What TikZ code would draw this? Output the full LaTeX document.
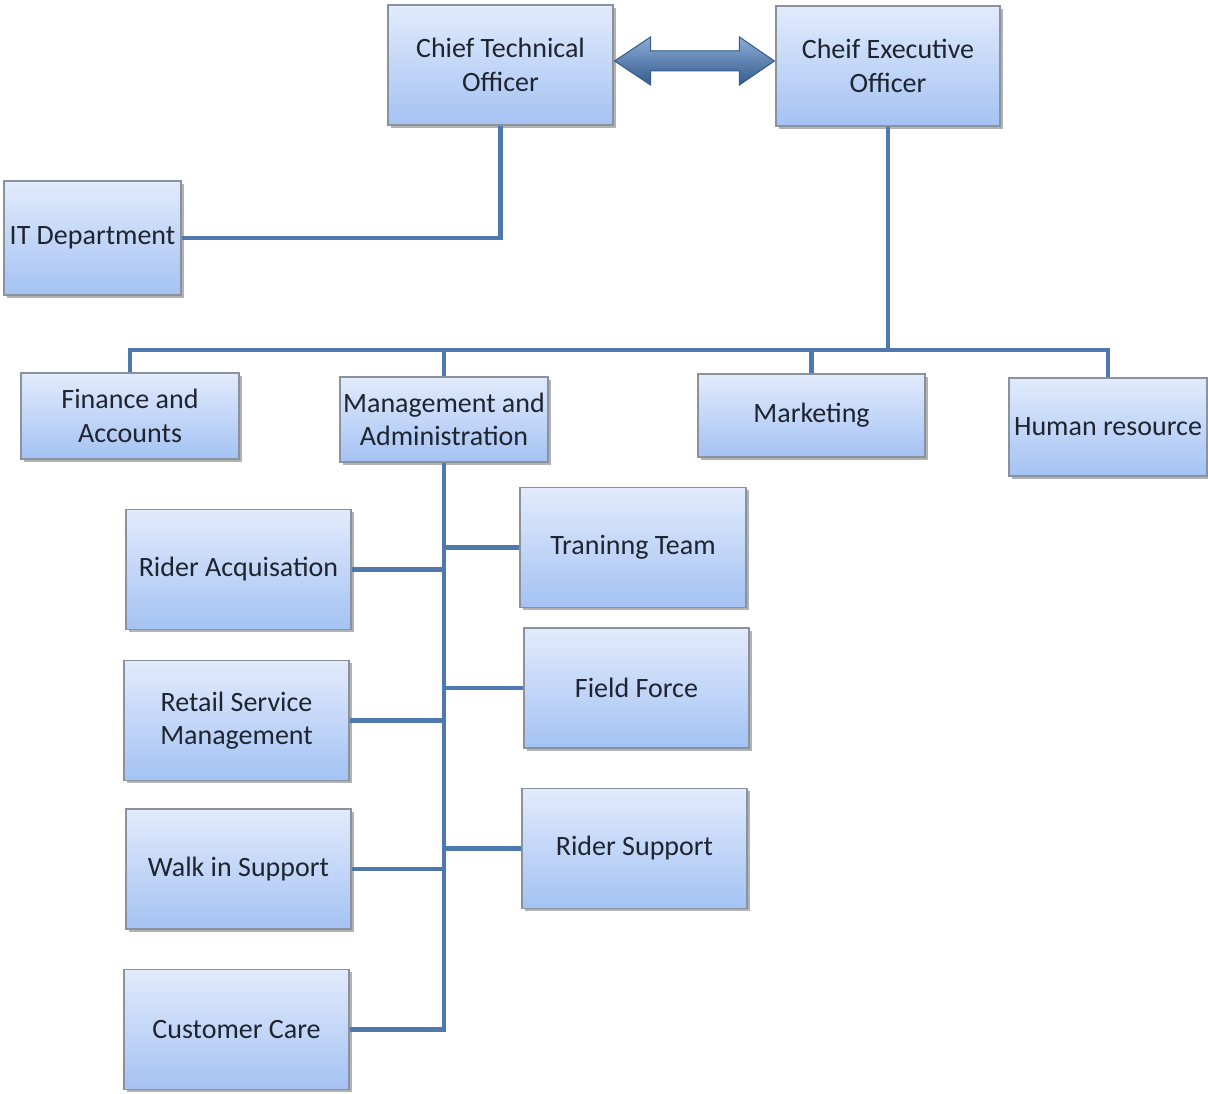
\documentclass[tikz,border=0pt]{standalone}
\usepackage{fontspec}
\setmainfont{Carlito}
\usetikzlibrary{shadows,calc}

\definecolor{linkblue}{RGB}{79,121,173}
\definecolor{boxtop}{RGB}{226,235,252}
\definecolor{boxbot}{RGB}{164,194,243}
\definecolor{boxline}{RGB}{138,146,158}
\definecolor{arrtop}{RGB}{140,172,214}
\definecolor{arrbot}{RGB}{52,92,140}
\definecolor{txt}{RGB}{30,36,48}

\tikzset{every picture/.style={line width=0.75pt}}
\tikzset{
  unit/.style={draw=boxline, line width=0.9pt, top color=boxtop, bottom color=boxbot,
    drop shadow={shadow xshift=2pt, shadow yshift=-2pt, opacity=0.5, fill=black!60},
    align=center, text=txt, inner sep=2pt, font=\fontsize{21}{25}\selectfont},
  link/.style={draw=linkblue, line width=3.3pt},
}

\begin{document}
\begin{tikzpicture}[x=0.75pt,y=0.75pt,yscale=-1,xscale=1]
		\useasboundingbox (0,0) rectangle (1208,1094);
		
		%Shape: top level
		\node[unit, minimum width=168.75pt, minimum height=90pt] (cto) at (500.5,65) {Chief Technical\\Officer};
		\node[unit, minimum width=168pt, minimum height=90pt] (ceo) at (888,66) {Cheif Executive\\Officer};
		\node[unit, minimum width=132.75pt, minimum height=85.5pt] (it) at (92.5,238) {IT Department};
		
		%Shape: departments
		\node[unit, minimum width=163.5pt, minimum height=64.5pt] (fin) at (130,416) {Finance and\\Accounts};
		\node[unit, minimum width=156pt, minimum height=63.75pt] (mgmt) at (444,419.5) {Management and\\Administration};
		\node[unit, minimum width=170.25pt, minimum height=62.25pt] (mkt) at (811.5,415.5) {Marketing};
		\node[unit, minimum width=148.5pt, minimum height=73.5pt] (hr) at (1108,427) {Human resource};
		
		%Shape: teams left
		\node[unit, minimum width=168.75pt, minimum height=90pt] (ra) at (238.5,569.5) {Rider Acquisation};
		\node[unit, minimum width=168.75pt, minimum height=90pt] (rsm) at (236.5,720.5) {Retail Service\\Management};
		\node[unit, minimum width=168.75pt, minimum height=90pt] (wis) at (238.5,869) {Walk in Support};
		\node[unit, minimum width=168.75pt, minimum height=90pt] (cc) at (236.5,1029.5) {Customer Care};
		
		%Shape: teams right
		\node[unit, minimum width=169.5pt, minimum height=90pt] (tt) at (633,547.5) {Traninng Team};
		\node[unit, minimum width=168.75pt, minimum height=90pt] (ff) at (636.5,688) {Field Force};
		\node[unit, minimum width=168.75pt, minimum height=90pt] (rs) at (634.5,848.5) {Rider Support};
		
		%Double arrow between the chiefs
		\coordinate (al) at ($(cto.east)+(1,-4)$);
		\coordinate (ar) at ($(cto.east -| ceo.west)+(-1,-4)$);
		\fill[top color=arrtop, bottom color=arrbot, draw=arrbot, line width=0.75pt]
		  (al) -- ++(36,-24) -- ++(0,14) -- ($(ar)+(-35,-10)$) -- ++(0,-14) -- (ar)
		  -- ++(-35,24) -- ++(0,-14) -- ($(al)+(36,10)$) -- ++(0,14) -- cycle;
		
		%Straight Lines
		\coordinate (hub) at (888,350);
		\draw[link] (cto.south) |- (it.east);
		\draw[link] (ceo.south) -- (hub);
		\draw[link] (hub) -| (fin.north);
		\draw[link] (hub) -| (mgmt.north);
		\draw[link] (hub) -| (mkt.north);
		\draw[link] (hub) -| (hr.north);
		
		\draw[link] (mgmt.south) |- (cc.east);
		\draw[link] (ra.east) -- (ra.east -| mgmt.south);
		\draw[link] (rsm.east) -- (rsm.east -| mgmt.south);
		\draw[link] (wis.east) -- (wis.east -| mgmt.south);
		\draw[link] (tt.west) -- (tt.west -| mgmt.south);
		\draw[link] (ff.west) -- (ff.west -| mgmt.south);
		\draw[link] (rs.west) -- (rs.west -| mgmt.south);
\end{tikzpicture}
\end{document}
